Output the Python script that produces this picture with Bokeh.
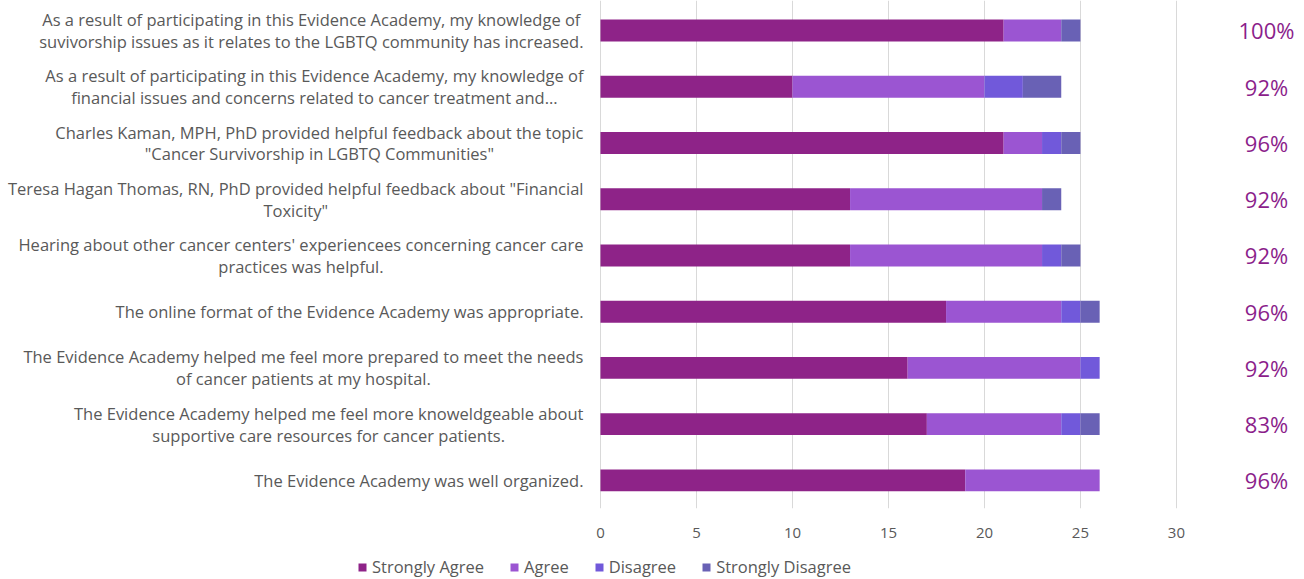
from bokeh.plotting import figure
from bokeh.layouts import column
from bokeh.models import ColumnDataSource, Range1d, FixedTicker, Legend, LegendItem, Label
from bokeh.core.properties import value
from bokeh.embed import file_html
from bokeh.resources import INLINE

categories = [
    "As a result of participating in this Evidence Academy, my knowledge of\nsuvivorship issues as it relates to the LGBTQ community has increased.",
    "As a result of participating in this Evidence Academy, my knowledge of\nfinancial issues and concerns related to cancer treatment and...",
    "Charles Kaman, MPH, PhD provided helpful feedback about the topic\n\"Cancer Survivorship in LGBTQ Communities\"",
    "Teresa Hagan Thomas, RN, PhD provided helpful feedback about \"Financial\nToxicity\"",
    "Hearing about other cancer centers' experiencees concerning cancer care\npractices was helpful.",
    "The online format of the Evidence Academy was appropriate.",
    "The Evidence Academy helped me feel more prepared to meet the needs\nof cancer patients at my hospital.",
    "The Evidence Academy helped me feel more knoweldgeable about\nsupportive care resources for cancer patients.",
    "The Evidence Academy was well organized.",
]
strongly_agree = [21, 10, 21, 13, 13, 18, 16, 17, 19]
agree = [3, 10, 2, 10, 10, 6, 9, 7, 7]
disagree = [0, 2, 1, 0, 1, 1, 1, 1, 0]
strongly_disagree = [1, 2, 1, 1, 1, 1, 0, 1, 0]
percent_labels = ["100%", "92%", "96%", "92%", "92%", "96%", "92%", "83%", "96%"]
series_names = ["Strongly Agree", "Agree", "Disagree", "Strongly Disagree"]
x_ticks = [0, 5, 10, 15, 20, 25, 30]

colors = ["#8E2388", "#9B55D2", "#7159DA", "#6961B5"]
FONT = "Open Sans"
GRAY = "#595959"
NAN = float("nan")

ypos = list(range(len(categories)))
src = ColumnDataSource(dict(
    y=ypos, sa=strongly_agree, ag=agree, di=disagree, sd=strongly_disagree,
    pct=percent_labels, px=[34.69] * len(categories),
))

p = figure(width=1304, height=545, output_backend="svg", toolbar_location=None,
           x_range=Range1d(-31.25, 36.67), y_range=Range1d(8.5, -0.533),
           min_border_left=0, min_border_right=0, min_border_top=0, min_border_bottom=37)
p.outline_line_color = None
p.background_fill_color = "white"

renderers = p.hbar_stack(["sa", "ag", "di", "sd"], y="y", height=0.39, color=colors,
                         source=src, line_color=None)

p.text(x="px", y="y", text="pct", source=src, text_align="center", text_baseline="middle",
       text_color="#8B1E8B", text_font=value(FONT), text_font_size="22px")

for i, c in enumerate(categories):
    p.add_layout(Label(x=-0.885, y=i, text=c, anchor="center_right", text_align="center",
                       text_baseline="middle", text_color=GRAY, text_font=FONT,
                       text_font_size="16.5px", text_line_height=0.95))

p.xaxis.ticker = FixedTicker(ticks=x_ticks)
p.xaxis.axis_line_color = None
p.xaxis.major_tick_line_color = None
p.xaxis.minor_tick_line_color = None
p.xaxis.major_label_text_color = GRAY
p.xaxis.major_label_text_font = FONT
p.xaxis.major_label_text_font_size = "15px"
p.xaxis.major_label_standoff = 13

p.yaxis.visible = False

p.xgrid.grid_line_color = "#D9D9D9"
p.ygrid.grid_line_color = None

# legend strip
q = figure(width=1304, height=34, output_backend="svg", toolbar_location=None,
           x_range=Range1d(0, 1304), y_range=Range1d(0, 34),
           min_border_left=0, min_border_right=0, min_border_top=0, min_border_bottom=0)
q.outline_line_color = None
q.axis.visible = False
q.grid.visible = False
leg_renderers = [q.hbar(y=[NAN], right=[NAN], height=1, color=c, line_color=None) for c in colors]
legend = Legend(items=[LegendItem(label=n, renderers=[r]) for n, r in zip(series_names, leg_renderers)],
                orientation="horizontal", location=(357, 1),
                glyph_width=10, glyph_height=10, label_standoff=5, spacing=25,
                padding=0, margin=0, border_line_color=None, background_fill_alpha=0,
                label_text_color=GRAY, label_text_font=FONT, label_text_font_size="16.5px")
q.add_layout(legend, "center")

open("out.html", "w").write(file_html(column(p, q, spacing=0), INLINE))
